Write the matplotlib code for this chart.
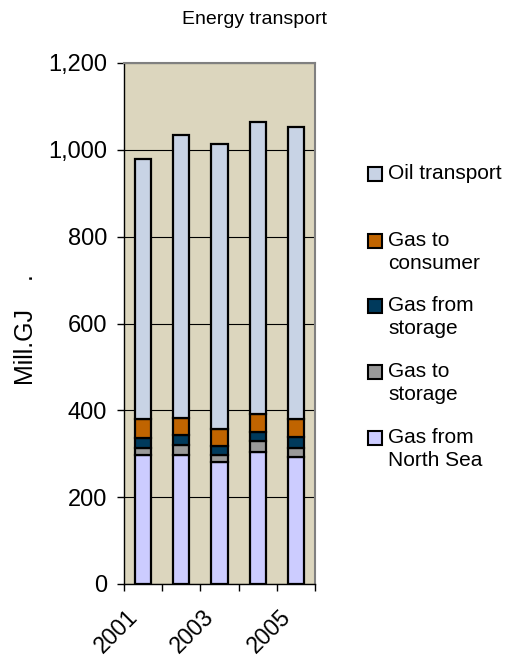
import numpy as np
import matplotlib
matplotlib.use("Agg")
import matplotlib.pyplot as plt
from matplotlib.patches import Rectangle

plt.rcParams['font.family'] = ['Liberation Sans', 'DejaVu Sans']

years = ['2001', '2002', '2003', '2004', '2005']
tick_labels = ['2001', '', '2003', '', '2005']

# stacked from the bottom up (Mill. GJ)
north_sea = [298, 297, 282, 303, 293]
to_storage = [16, 24, 15, 26, 20]
from_storage = [23, 23, 21, 20, 26]
to_consumer = [42, 38, 40, 42, 40]
oil = [601, 653, 655, 674, 673]

series = [
    ('Gas from\nNorth Sea', north_sea, '#CCCCFF'),
    ('Gas to\nstorage', to_storage, '#999999'),
    ('Gas from\nstorage', from_storage, '#003A5C'),
    ('Gas to\nconsumer', to_consumer, '#C06400'),
    ('Oil transport', oil, '#C8D3E5'),
]

fig = plt.figure(figsize=(5.10, 6.61), dpi=100)
ax = fig.add_axes([124 / 510, 1 - 584 / 661, (315 - 124) / 510, (584 - 63) / 661])
ax.set_facecolor('#DCD6BE')

x = np.arange(len(years))
bottom = np.zeros(len(years))
for name, vals, col in series:
    ax.bar(x, vals, width=0.42, bottom=bottom, color=col,
           edgecolor='black', linewidth=1.6, zorder=3)
    bottom += np.array(vals)

ax.set_xlim(-0.5, len(years) - 0.5)
ax.set_ylim(0, 1200)
ax.set_yticks(range(0, 1201, 200))
ax.set_yticklabels([f'{v:,}' for v in range(0, 1201, 200)], fontsize=17)
ax.yaxis.grid(True, color='black', linewidth=0.8, zorder=1)
ax.set_axisbelow(True)

# category boundaries get the ticks; the slanted year labels end just right of them
ax.set_xticks(np.arange(len(years) + 1) - 0.5)
ax.set_xticklabels([])
ax.set_xticks(x - 0.45, minor=True)
ax.set_xticklabels(tick_labels, minor=True, rotation=45, ha='right',
                   rotation_mode='anchor', fontsize=16.5)
ax.tick_params(axis='x', which='minor', length=0, pad=15)
ax.tick_params(axis='x', which='major', length=5, width=1, direction='out')
ax.tick_params(axis='y', length=5, width=1, direction='out', pad=7)

for s in ['top', 'right']:
    ax.spines[s].set_color('#808080')
    ax.spines[s].set_linewidth(1.5)
for s in ['left', 'bottom']:
    ax.spines[s].set_color('black')
    ax.spines[s].set_linewidth(1)

ax.set_ylabel('Mill.GJ    .', fontsize=18)
ax.yaxis.set_label_coords(-0.45, (584 - 330) / 521)

fig.text(0.5, 1 - 20 / 661, 'Energy transport', ha='center', va='center', fontsize=14)

# legend, top entry first
legend_y = [174, 241, 306, 372, 438]
for (name, vals, col), yc in zip(reversed(series), legend_y):
    fig.patches.append(Rectangle((368 / 510, 1 - (yc + 7) / 661), 14 / 510, 14 / 661,
                                 transform=fig.transFigure, facecolor=col,
                                 edgecolor='black', linewidth=1.5))
    fig.text(388 / 510, 1 - (yc - 10) / 661, name, ha='left', va='top',
             fontsize=15, linespacing=1.25)

fig.savefig('out.png', dpi=100)
